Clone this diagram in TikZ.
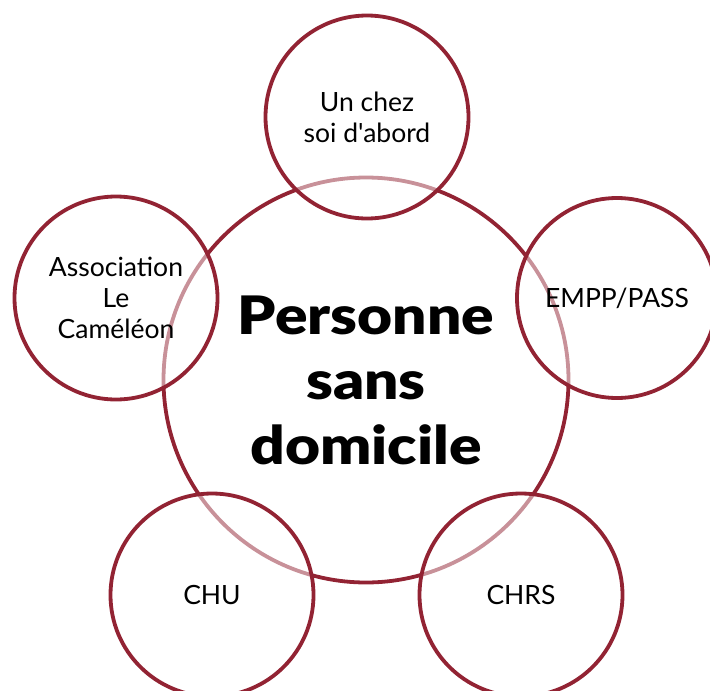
\documentclass[tikz,border=0pt]{standalone}
\usepackage{fontspec}
\setmainfont{Lato}[Ligatures=TeXOff]
\IfFontExistsTF{Lato Black}
  {\newfontfamily\corefont{Lato Black}[FakeStretch=1.14]}
  {\newfontfamily\corefont{Lato}[UprightFont=*-Bold, FakeStretch=1.19, FakeBold=1.5]}
\definecolor{ringred}{HTML}{922333}
\begin{document}
\begin{tikzpicture}[x=1pt,y=-1pt,
  ring/.style={circle, draw=ringred, line width=3.8pt, inner sep=0pt, align=center, text=black},
  satellite/.style={ring, minimum size=203pt, fill=white, fill opacity=0.5, text opacity=1, draw opacity=1,
    font=\fontsize{26.5}{31}\selectfont},
  core/.style={ring, minimum size=405pt, font=\fontsize{53}{65}\selectfont\corefont}]
\useasboundingbox (0,0) rectangle (710,691);
\clip (0,0) rectangle (710,691);
\node[core] (center) at (366,380) {Personne\\sans\\domicile};
\node[satellite] (top) at (367,117) {Un chez\\soi d'abord};
\node[satellite, minimum size=200pt] (empp) at (617,298) {EMPP/PASS};
\node[satellite] (assoc) at (116,298) {Association\\Le\\Caméléon};
\node[satellite] (chu) at (212,595) {CHU};
\node[satellite] (chrs) at (521,595) {CHRS};
\end{tikzpicture}
\end{document}
